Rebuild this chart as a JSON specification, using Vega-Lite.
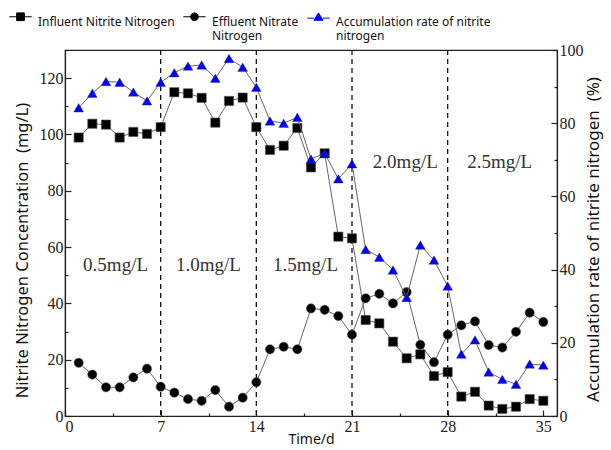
{
  "$schema": "https://vega.github.io/schema/vega-lite/v6.json",
  "width": 492,
  "height": 366,
  "autosize": {"type": "none"},
  "padding": {"left": 65, "top": 50, "right": 54, "bottom": 34},
  "background": "white",
  "datasets": {
    "series": [
      {"day": 1, "series": "Influent Nitrite Nitrogen", "value": 98.9},
      {"day": 2, "series": "Influent Nitrite Nitrogen", "value": 103.8},
      {"day": 3, "series": "Influent Nitrite Nitrogen", "value": 103.5},
      {"day": 4, "series": "Influent Nitrite Nitrogen", "value": 98.9},
      {"day": 5, "series": "Influent Nitrite Nitrogen", "value": 100.9},
      {"day": 6, "series": "Influent Nitrite Nitrogen", "value": 100.2},
      {"day": 7, "series": "Influent Nitrite Nitrogen", "value": 102.6},
      {"day": 8, "series": "Influent Nitrite Nitrogen", "value": 115.0},
      {"day": 9, "series": "Influent Nitrite Nitrogen", "value": 114.6},
      {"day": 10, "series": "Influent Nitrite Nitrogen", "value": 113.0},
      {"day": 11, "series": "Influent Nitrite Nitrogen", "value": 104.2},
      {"day": 12, "series": "Influent Nitrite Nitrogen", "value": 111.9},
      {"day": 13, "series": "Influent Nitrite Nitrogen", "value": 113.1},
      {"day": 14, "series": "Influent Nitrite Nitrogen", "value": 102.6},
      {"day": 15, "series": "Influent Nitrite Nitrogen", "value": 94.5},
      {"day": 16, "series": "Influent Nitrite Nitrogen", "value": 96.0},
      {"day": 17, "series": "Influent Nitrite Nitrogen", "value": 102.3},
      {"day": 18, "series": "Influent Nitrite Nitrogen", "value": 88.3},
      {"day": 19, "series": "Influent Nitrite Nitrogen", "value": 93.3},
      {"day": 20, "series": "Influent Nitrite Nitrogen", "value": 63.7},
      {"day": 21, "series": "Influent Nitrite Nitrogen", "value": 63.1},
      {"day": 22, "series": "Influent Nitrite Nitrogen", "value": 34.1},
      {"day": 23, "series": "Influent Nitrite Nitrogen", "value": 32.9},
      {"day": 24, "series": "Influent Nitrite Nitrogen", "value": 26.4},
      {"day": 25, "series": "Influent Nitrite Nitrogen", "value": 20.5},
      {"day": 26, "series": "Influent Nitrite Nitrogen", "value": 21.9},
      {"day": 27, "series": "Influent Nitrite Nitrogen", "value": 14.2},
      {"day": 28, "series": "Influent Nitrite Nitrogen", "value": 15.6},
      {"day": 29, "series": "Influent Nitrite Nitrogen", "value": 6.9},
      {"day": 30, "series": "Influent Nitrite Nitrogen", "value": 8.6},
      {"day": 31, "series": "Influent Nitrite Nitrogen", "value": 3.7},
      {"day": 32, "series": "Influent Nitrite Nitrogen", "value": 2.5},
      {"day": 33, "series": "Influent Nitrite Nitrogen", "value": 3.3},
      {"day": 34, "series": "Influent Nitrite Nitrogen", "value": 6.0},
      {"day": 35, "series": "Influent Nitrite Nitrogen", "value": 5.4},
      {"day": 1, "series": "Effluent Nitrate Nitrogen", "value": 18.9},
      {"day": 2, "series": "Effluent Nitrate Nitrogen", "value": 14.7},
      {"day": 3, "series": "Effluent Nitrate Nitrogen", "value": 10.2},
      {"day": 4, "series": "Effluent Nitrate Nitrogen", "value": 10.2},
      {"day": 5, "series": "Effluent Nitrate Nitrogen", "value": 13.7},
      {"day": 6, "series": "Effluent Nitrate Nitrogen", "value": 16.8},
      {"day": 7, "series": "Effluent Nitrate Nitrogen", "value": 10.4},
      {"day": 8, "series": "Effluent Nitrate Nitrogen", "value": 8.3},
      {"day": 9, "series": "Effluent Nitrate Nitrogen", "value": 6.0},
      {"day": 10, "series": "Effluent Nitrate Nitrogen", "value": 5.4},
      {"day": 11, "series": "Effluent Nitrate Nitrogen", "value": 9.2},
      {"day": 12, "series": "Effluent Nitrate Nitrogen", "value": 3.3},
      {"day": 13, "series": "Effluent Nitrate Nitrogen", "value": 6.5},
      {"day": 14, "series": "Effluent Nitrate Nitrogen", "value": 12.0},
      {"day": 15, "series": "Effluent Nitrate Nitrogen", "value": 23.7},
      {"day": 16, "series": "Effluent Nitrate Nitrogen", "value": 24.6},
      {"day": 17, "series": "Effluent Nitrate Nitrogen", "value": 23.7},
      {"day": 18, "series": "Effluent Nitrate Nitrogen", "value": 38.2},
      {"day": 19, "series": "Effluent Nitrate Nitrogen", "value": 37.7},
      {"day": 20, "series": "Effluent Nitrate Nitrogen", "value": 35.5},
      {"day": 21, "series": "Effluent Nitrate Nitrogen", "value": 28.9},
      {"day": 22, "series": "Effluent Nitrate Nitrogen", "value": 41.8},
      {"day": 23, "series": "Effluent Nitrate Nitrogen", "value": 43.4},
      {"day": 24, "series": "Effluent Nitrate Nitrogen", "value": 40.0},
      {"day": 25, "series": "Effluent Nitrate Nitrogen", "value": 44.0},
      {"day": 26, "series": "Effluent Nitrate Nitrogen", "value": 25.3},
      {"day": 27, "series": "Effluent Nitrate Nitrogen", "value": 19.1},
      {"day": 28, "series": "Effluent Nitrate Nitrogen", "value": 28.9},
      {"day": 29, "series": "Effluent Nitrate Nitrogen", "value": 32.2},
      {"day": 30, "series": "Effluent Nitrate Nitrogen", "value": 33.6},
      {"day": 31, "series": "Effluent Nitrate Nitrogen", "value": 25.2},
      {"day": 32, "series": "Effluent Nitrate Nitrogen", "value": 24.3},
      {"day": 33, "series": "Effluent Nitrate Nitrogen", "value": 29.9},
      {"day": 34, "series": "Effluent Nitrate Nitrogen", "value": 36.7},
      {"day": 35, "series": "Effluent Nitrate Nitrogen", "value": 33.4}
    ],
    "rate": [
      {"day": 1, "value": 84.2}, {"day": 2, "value": 88.2}, {"day": 3, "value": 91.4},
      {"day": 4, "value": 91.2}, {"day": 5, "value": 88.5}, {"day": 6, "value": 86.1},
      {"day": 7, "value": 91.2}, {"day": 8, "value": 93.8}, {"day": 9, "value": 95.6},
      {"day": 10, "value": 95.9}, {"day": 11, "value": 92.3}, {"day": 12, "value": 97.7},
      {"day": 13, "value": 95.3}, {"day": 14, "value": 89.8}, {"day": 15, "value": 80.6},
      {"day": 16, "value": 80.0}, {"day": 17, "value": 81.6}, {"day": 18, "value": 70.2},
      {"day": 19, "value": 71.8}, {"day": 20, "value": 64.8}, {"day": 21, "value": 68.9},
      {"day": 22, "value": 45.5}, {"day": 23, "value": 43.4}, {"day": 24, "value": 39.9},
      {"day": 25, "value": 32.4}, {"day": 26, "value": 46.7}, {"day": 27, "value": 42.6},
      {"day": 28, "value": 35.5}, {"day": 29, "value": 16.9}, {"day": 30, "value": 20.8},
      {"day": 31, "value": 12.0}, {"day": 32, "value": 10.0}, {"day": 33, "value": 8.7},
      {"day": 34, "value": 14.2}, {"day": 35, "value": 13.9}
    ],
    "periods": [{"day": 7}, {"day": 14}, {"day": 21}, {"day": 28}],
    "labels": [
      {"day": 3.7, "value": 53.6, "label": "0.5mg/L"},
      {"day": 10.5, "value": 53.6, "label": "1.0mg/L"},
      {"day": 17.6, "value": 53.6, "label": "1.5mg/L"},
      {"day": 24.9, "value": 90.3, "label": "2.0mg/L"},
      {"day": 31.8, "value": 90.3, "label": "2.5mg/L"}
    ]
  },
  "config": {
    "view": {"stroke": "#222", "strokeWidth": 1.2},
    "axis": {
      "grid": false,
      "domainColor": "#222",
      "domainWidth": 1.2,
      "tickColor": "#222",
      "tickWidth": 1.2,
      "labelFont": "Liberation Serif",
      "labelFontSize": 16,
      "labelColor": "#222",
      "titleFont": "Noto Sans",
      "titleFontSize": 16.5,
      "titleFontWeight": "normal",
      "titleColor": "#111"
    }
  },
  "encoding": {
    "x": {
      "field": "day",
      "type": "quantitative",
      "scale": {"domain": [0, 36], "nice": false},
      "axis": {
        "title": "Time/d",
        "titleFontSize": 14,
        "values": [0, 3.5, 7, 10.5, 14, 17.5, 21, 24.5, 28, 31.5, 35],
        "labelExpr": "datum.value % 7 === 0 ? datum.label : ''",
        "tickSize": {"condition": {"test": "datum.value % 7 === 0", "value": -6}, "value": -3},
        "labelPadding": 8,
        "titleY": 23,
        "titleBaseline": "middle"
      }
    }
  },
  "resolve": {"scale": {"y": "independent"}},
  "layer": [
    {
      "data": {"name": "periods"},
      "mark": {"type": "rule", "strokeDash": [5, 4], "color": "#111", "strokeWidth": 1.3},
      "encoding": {}
    },
    {
      "encoding": {
        "y": {
          "field": "value",
          "type": "quantitative",
          "scale": {"domain": [0, 130], "nice": false},
          "axis": {
            "title": "Nitrite Nitrogen Concentration\u00a0\u00a0(mg/L)",
            "values": [0, 10, 20, 30, 40, 50, 60, 70, 80, 90, 100, 110, 120, 130],
            "labelExpr": "datum.value % 20 === 0 ? datum.label : ''",
            "tickSize": {"condition": {"test": "datum.value % 20 === 0", "value": -6}, "value": -3},
            "labelPadding": 8,
            "titleAngle": -90,
            "titleX": -43,
            "titleY": 200,
            "titleAlign": "center",
            "titleBaseline": "middle"
          }
        }
      },
      "layer": [
        {
          "data": {"name": "series"},
          "mark": {"type": "line", "color": "#666", "strokeWidth": 1},
          "encoding": {"detail": {"field": "series"}}
        },
        {
          "data": {"name": "series"},
          "transform": [{"filter": "datum.series === 'Influent Nitrite Nitrogen'"}],
          "mark": {"type": "point", "shape": "square", "filled": true, "opacity": 1, "color": "#000000", "stroke": "#555", "strokeWidth": 0.6, "size": 85}
        },
        {
          "data": {"name": "series"},
          "transform": [{"filter": "datum.series === 'Effluent Nitrate Nitrogen'"}],
          "mark": {"type": "point", "shape": "circle", "filled": true, "opacity": 1, "color": "#000000", "stroke": "#555", "strokeWidth": 0.6, "size": 85}
        },
        {
          "data": {"name": "labels"},
          "mark": {"type": "text", "font": "Liberation Serif", "fontSize": 19, "color": "#333", "align": "center", "baseline": "middle"},
          "encoding": {"text": {"field": "label"}}
        }
      ]
    },
    {
      "data": {"name": "rate"},
      "encoding": {
        "y": {
          "field": "value",
          "type": "quantitative",
          "scale": {"domain": [0, 100], "nice": false},
          "axis": {
            "orient": "right",
            "title": "Accumulation rate of nitrite nitrogen\u00a0\u00a0(%)",
            "titleFontSize": 17,
            "values": [0, 10, 20, 30, 40, 50, 60, 70, 80, 90, 100],
            "labelExpr": "datum.value % 20 === 0 ? datum.label : ''",
            "tickSize": {"condition": {"test": "datum.value % 20 === 0", "value": -6}, "value": -3},
            "labelPadding": 8,
            "titleAngle": -90,
            "titleX": 36,
            "titleY": 189,
            "titleAlign": "center",
            "titleBaseline": "middle"
          }
        }
      },
      "layer": [
        {"mark": {"type": "line", "color": "#666", "strokeWidth": 1}},
        {"mark": {"type": "point", "shape": "triangle-up", "filled": true, "opacity": 1, "color": "#0000ff", "stroke": "#334", "strokeWidth": 0.4, "size": 95}}
      ]
    },
    {
      "data": {"name": "series"},
      "transform": [{"filter": "false"}],
      "mark": {"type": "point", "filled": true, "opacity": 1, "strokeWidth": 1},
      "encoding": {
        "shape": {
          "field": "series",
          "type": "nominal",
          "scale": {
            "domain": ["Influent Nitrite Nitrogen", "Effluent Nitrate Nitrogen", "Accumulation rate of nitrite nitrogen"],
            "range": [
              "M-1.6,0H-0.55M0.55,0H1.6M-0.55,-0.55H0.55V0.55H-0.55Z",
              "M-1.6,0H-0.55M0.55,0H1.6M-0.55,0A0.55,0.55 0 1,0 0.55,0A0.55,0.55 0 1,0 -0.55,0Z",
              "M-1.6,0.2H-0.65M0.65,0.2H1.6M0,-0.55L0.65,0.5H-0.65Z"
            ]
          },
          "legend": {
            "title": null,
            "orient": "none",
            "legendX": -52,
            "legendY": -41,
            "direction": "horizontal",
            "padding": 0,
            "columnPadding": 6,
            "symbolSize": 196,
            "symbolStrokeWidth": 1,
            "labelOffset": 10,
            "labelFont": "Noto Sans",
            "labelFontSize": 12,
            "labelColor": "#111",
            "labelLimit": 300,
            "labelBaseline": "top",
            "labelExpr": "datum.label === 'Effluent Nitrate Nitrogen' ? ['Effluent Nitrate', 'Nitrogen'] : datum.label === 'Accumulation rate of nitrite nitrogen' ? ['Accumulation rate of nitrite', 'nitrogen'] : [datum.label, '']"
          }
        },
        "fill": {
          "field": "series",
          "type": "nominal",
          "scale": {
            "domain": ["Influent Nitrite Nitrogen", "Effluent Nitrate Nitrogen", "Accumulation rate of nitrite nitrogen"],
            "range": ["#000000", "#000000", "#0000ff"]
          },
          "legend": {
            "title": null,
            "orient": "none",
            "legendX": -52,
            "legendY": -41,
            "direction": "horizontal",
            "padding": 0,
            "columnPadding": 6,
            "symbolSize": 196,
            "symbolStrokeWidth": 1,
            "labelOffset": 10,
            "labelFont": "Noto Sans",
            "labelFontSize": 12,
            "labelColor": "#111",
            "labelLimit": 300,
            "labelBaseline": "top",
            "labelExpr": "datum.label === 'Effluent Nitrate Nitrogen' ? ['Effluent Nitrate', 'Nitrogen'] : datum.label === 'Accumulation rate of nitrite nitrogen' ? ['Accumulation rate of nitrite', 'nitrogen'] : [datum.label, '']"
          }
        },
        "stroke": {
          "field": "series",
          "type": "nominal",
          "scale": {
            "domain": ["Influent Nitrite Nitrogen", "Effluent Nitrate Nitrogen", "Accumulation rate of nitrite nitrogen"],
            "range": ["#000000", "#000000", "#0000ff"]
          },
          "legend": {
            "title": null,
            "orient": "none",
            "legendX": -52,
            "legendY": -41,
            "direction": "horizontal",
            "padding": 0,
            "columnPadding": 6,
            "symbolSize": 196,
            "symbolStrokeWidth": 1,
            "labelOffset": 10,
            "labelFont": "Noto Sans",
            "labelFontSize": 12,
            "labelColor": "#111",
            "labelLimit": 300,
            "labelBaseline": "top",
            "labelExpr": "datum.label === 'Effluent Nitrate Nitrogen' ? ['Effluent Nitrate', 'Nitrogen'] : datum.label === 'Accumulation rate of nitrite nitrogen' ? ['Accumulation rate of nitrite', 'nitrogen'] : [datum.label, '']"
          }
        }
      }
    }
  ]
}
